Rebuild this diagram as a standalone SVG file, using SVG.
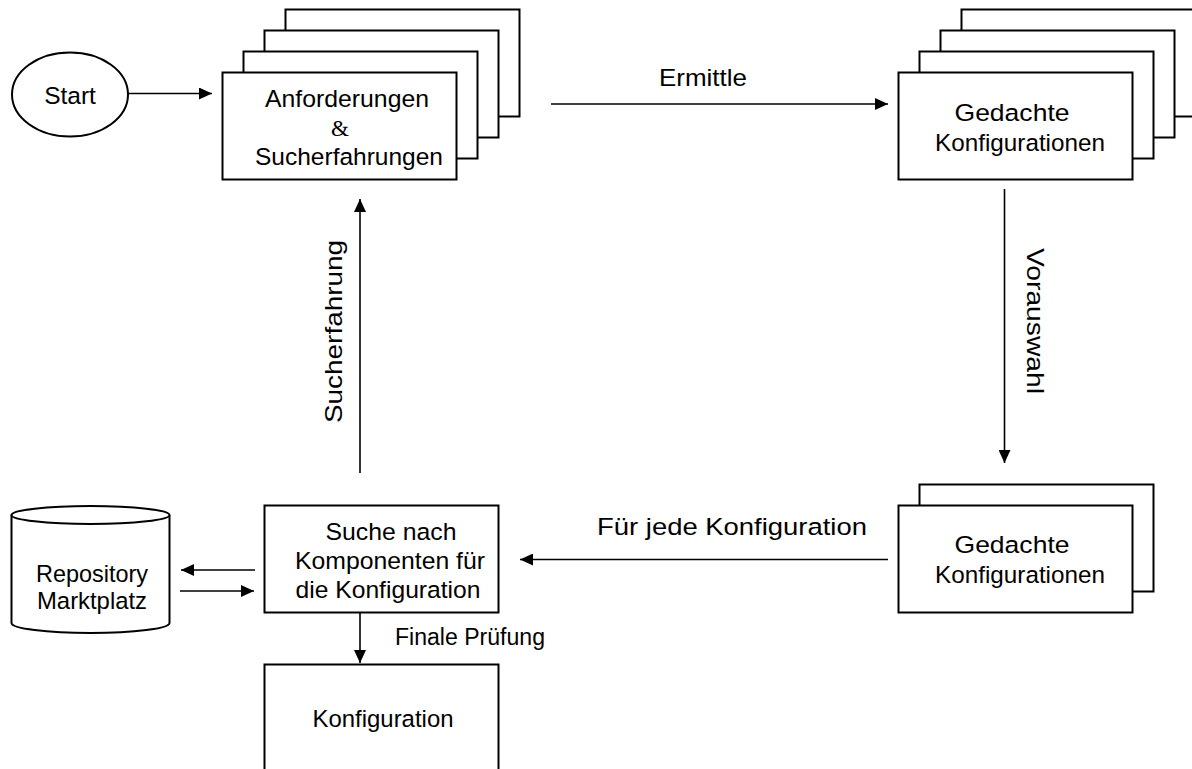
<svg xmlns="http://www.w3.org/2000/svg" width="1192" height="769" viewBox="0 0 1192 769">
  <style>
    .box { fill: #ffffff; stroke: #000000; stroke-width: 2; }
    .conn { fill: none; stroke: #000000; stroke-width: 1.6; marker-end: url(#head); }
    .lbl { font-family: "Liberation Sans", Arial, sans-serif; font-size: 24.5px; fill: #000000; }
    .mid { text-anchor: middle; }
    .amp { font-family: "Liberation Serif", "Times New Roman", serif; font-size: 23px; fill: #000000; text-anchor: middle; }
  </style>
  <defs>
    <marker id="head" markerUnits="userSpaceOnUse" markerWidth="14" markerHeight="12" refX="13" refY="6" orient="auto">
      <path d="M0,0 L13,6 L0,12 z" fill="#000000"/>
    </marker>
  </defs>
  <rect width="1192" height="769" fill="#ffffff"/>

  <!-- Start -->
  <g id="start">
    <ellipse cx="70" cy="94.5" rx="58" ry="42" class="box"/>
    <text x="70" y="104" class="lbl mid">Start</text>
  </g>

  <!-- Stack: Anforderungen & Sucherfahrungen -->
  <g id="anforderungen">
    <rect x="285.5" y="9.5" width="234" height="107" class="box"/>
    <rect x="264.5" y="30.5" width="234" height="107" class="box"/>
    <rect x="243.5" y="51.5" width="234" height="107" class="box"/>
    <rect x="222.5" y="72.5" width="234" height="107" class="box"/>
    <text x="347" y="107" class="lbl mid" textLength="164" lengthAdjust="spacingAndGlyphs">Anforderungen</text>
    <text x="340" y="136" class="amp">&amp;</text>
    <text x="349" y="165" class="lbl mid" textLength="188" lengthAdjust="spacingAndGlyphs">Sucherfahrungen</text>
  </g>

  <!-- Stack: Gedachte Konfigurationen (top) -->
  <g id="gedacht-oben">
    <rect x="961.5" y="9.5" width="234" height="107" class="box"/>
    <rect x="940.5" y="30.5" width="234" height="107" class="box"/>
    <rect x="919.5" y="51.5" width="234" height="107" class="box"/>
    <rect x="898.5" y="72.5" width="234" height="107" class="box"/>
    <text x="1012" y="121" class="lbl mid" textLength="115" lengthAdjust="spacingAndGlyphs">Gedachte</text>
    <text x="1020" y="150.5" class="lbl mid" textLength="170" lengthAdjust="spacingAndGlyphs">Konfigurationen</text>
  </g>

  <!-- Stack: Gedachte Konfigurationen (preselected) -->
  <g id="gedacht-unten">
    <rect x="919.5" y="484.5" width="234" height="107" class="box"/>
    <rect x="898.5" y="505.5" width="234" height="107" class="box"/>
    <text x="1012" y="553" class="lbl mid" textLength="115" lengthAdjust="spacingAndGlyphs">Gedachte</text>
    <text x="1020" y="582.5" class="lbl mid" textLength="170" lengthAdjust="spacingAndGlyphs">Konfigurationen</text>
  </g>

  <!-- Repository cylinder -->
  <g id="repository">
    <path d="M11.5,515 L11.5,623 A79,10 0 0 0 169.5,623 L169.5,515" class="box"/>
    <ellipse cx="90.5" cy="515" rx="79" ry="9" class="box"/>
    <text x="92" y="582" class="lbl mid" textLength="112" lengthAdjust="spacingAndGlyphs">Repository</text>
    <text x="92" y="608.5" class="lbl mid" textLength="110" lengthAdjust="spacingAndGlyphs">Marktplatz</text>
  </g>

  <!-- Search box -->
  <g id="suche">
    <rect x="264.5" y="505.5" width="234" height="107" class="box"/>
    <text x="391" y="540" class="lbl mid" textLength="131" lengthAdjust="spacingAndGlyphs">Suche nach</text>
    <text x="390" y="569" class="lbl mid" textLength="190" lengthAdjust="spacingAndGlyphs">Komponenten für</text>
    <text x="388" y="598" class="lbl mid" textLength="185" lengthAdjust="spacingAndGlyphs">die Konfiguration</text>
  </g>

  <!-- Result -->
  <g id="konfiguration">
    <rect x="264.5" y="664.5" width="234" height="130" class="box"/>
    <text x="383" y="727" class="lbl mid" textLength="141" lengthAdjust="spacingAndGlyphs">Konfiguration</text>
  </g>

  <!-- Connectors -->
  <g id="connectors">
    <line x1="128" y1="93.5" x2="212" y2="93.5" class="conn"/>
    <line x1="551" y1="104" x2="888" y2="104" class="conn"/>
    <line x1="1004.5" y1="189" x2="1004.5" y2="463" class="conn"/>
    <line x1="888" y1="559.5" x2="520" y2="559.5" class="conn"/>
    <line x1="360" y1="473" x2="360" y2="199" class="conn"/>
    <line x1="255" y1="570" x2="181" y2="570" class="conn"/>
    <line x1="180" y1="591" x2="254" y2="591" class="conn"/>
    <line x1="360" y1="612.5" x2="360" y2="663" class="conn"/>

    <text x="703" y="86" class="lbl mid" textLength="88" lengthAdjust="spacingAndGlyphs">Ermittle</text>
    <text x="597" y="535" class="lbl" textLength="270" lengthAdjust="spacingAndGlyphs">Für jede Konfiguration</text>
    <text x="395" y="645" class="lbl" style="font-size:23px" textLength="150" lengthAdjust="spacingAndGlyphs">Finale Prüfung</text>
    <text transform="translate(1027,248) rotate(90)" class="lbl" textLength="146" lengthAdjust="spacingAndGlyphs">Vorauswahl</text>
    <text transform="translate(342,423) rotate(-90)" class="lbl" textLength="183" lengthAdjust="spacingAndGlyphs">Sucherfahrung</text>
  </g>
</svg>
